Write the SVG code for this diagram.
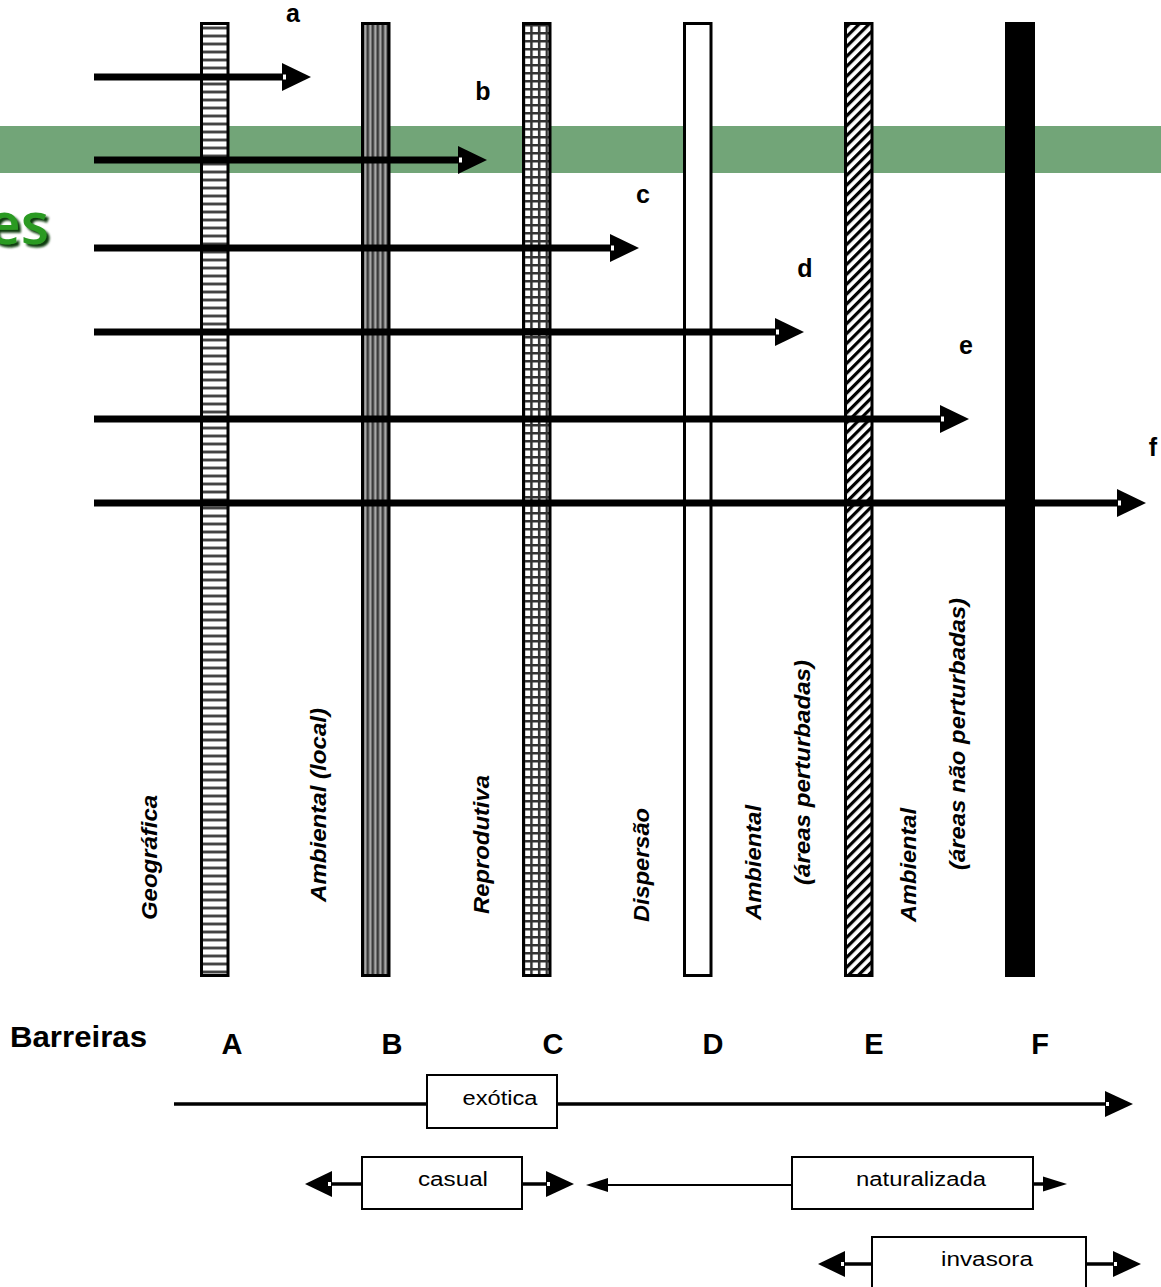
<svg xmlns="http://www.w3.org/2000/svg" xmlns:xlink="http://www.w3.org/1999/xlink" width="1161" height="1287" viewBox="0 0 1161 1287">
<style>
.bar{stroke:#000;stroke-width:3}
.line{stroke:#000;stroke-width:7;fill:none}
.bline{stroke:#000;stroke-width:3.5;fill:none}
.tline{stroke:#000;stroke-width:2;fill:none}
.box{fill:#fff;stroke:#000;stroke-width:2}
.lbl{font-family:"Liberation Sans",Arial,sans-serif;font-weight:bold;font-size:25px;fill:#000}
.big{font-family:"Liberation Sans",Arial,sans-serif;font-weight:bold;font-size:29px;fill:#000}
.rot{font-family:"Liberation Sans",Arial,sans-serif;font-weight:bold;font-style:italic;font-size:22px;fill:#000}
.bx{font-family:"Liberation Sans",Arial,sans-serif;font-size:20px;fill:#000;text-anchor:middle}
</style>
<defs>
<filter id="sh" x="-20%" y="-20%" width="140%" height="140%">
<feDropShadow dx="3" dy="3" stdDeviation="0.8" flood-color="#0b3d0b" flood-opacity="1"/>
</filter>
<pattern id="pA" x="0" y="0" width="8" height="8" patternUnits="userSpaceOnUse">
<rect width="8" height="8" fill="#fff"/>
<rect y="2" width="8" height="1" fill="#aaa"/>
<rect y="3" width="8" height="2" fill="#444"/>
<rect y="5" width="8" height="1" fill="#aaa"/>
</pattern>
<pattern id="pB" x="361.5" y="0" width="5" height="8" patternUnits="userSpaceOnUse">
<rect width="5" height="8" fill="#a8a8a8"/>
<rect x="0" width="2.6" height="8" fill="#3a3a3a"/>
</pattern>
<pattern id="pC" x="522.5" y="0" width="7.7" height="8" patternUnits="userSpaceOnUse">
<rect width="7.7" height="8" fill="#fff"/>
<rect x="0" width="2.5" height="8" fill="#333"/>
<rect y="0" width="7.7" height="2.5" fill="#333"/>
</pattern>
<pattern id="pE" x="0" y="0" width="7" height="7" patternUnits="userSpaceOnUse" patternTransform="rotate(45)">
<rect width="7" height="7" fill="#fff"/>
<rect x="0" width="3.2" height="7" fill="#000"/>
</pattern>
<g id="ahR"><path d="M0,-14 L29,0 L0,14 Z" fill="#000"/><rect x="1" y="-2.5" width="3" height="5" fill="#fff"/></g>
<g id="ahL"><path d="M0,-13 L-27,0 L0,13 Z" fill="#000"/><rect x="-4" y="-2" width="3" height="4" fill="#fff"/></g>
<g id="ahRb"><path d="M0,-13 L28,0 L0,13 Z" fill="#000"/><rect x="1" y="-2" width="3" height="4" fill="#fff"/></g>
</defs>
<rect width="1161" height="1287" fill="#fff"/>
<rect id="band" x="0" y="126" width="1161" height="47" fill="#72a578"/>
<g id="title-fragment">
<text x="49" y="244" text-anchor="end" font-family="'Open Sans','DejaVu Sans',sans-serif" font-weight="600" font-size="58" fill="#2a9a22" filter="url(#sh)">es</text>
</g>
<g id="barrier-A"><rect class="bar" x="201.5" y="23.5" width="26.5" height="952" fill="url(#pA)"/></g>
<g id="barrier-B"><rect class="bar" x="362.5" y="23.5" width="26.5" height="952" fill="url(#pB)"/></g>
<g id="barrier-C"><rect class="bar" x="523.5" y="23.5" width="26.5" height="952" fill="url(#pC)"/></g>
<g id="barrier-D"><rect class="bar" x="684.5" y="23.5" width="26.5" height="952" fill="#fff"/></g>
<g id="barrier-E"><rect class="bar" x="845.5" y="23.5" width="26.5" height="952" fill="url(#pE)"/></g>
<g id="barrier-F"><rect x="1005" y="22" width="30" height="955" fill="#000"/></g>
<g id="barrier-labels">
<text class="rot" transform="translate(157,920) rotate(-90)" textLength="125" lengthAdjust="spacingAndGlyphs">Geográfica</text>
<text class="rot" transform="translate(326,902) rotate(-90)" textLength="194" lengthAdjust="spacingAndGlyphs">Ambiental (local)</text>
<text class="rot" transform="translate(489,914) rotate(-90)" textLength="139" lengthAdjust="spacingAndGlyphs">Reprodutiva</text>
<text class="rot" transform="translate(649,922) rotate(-90)" textLength="114" lengthAdjust="spacingAndGlyphs">Dispersão</text>
<text class="rot" transform="translate(761,920) rotate(-90)" textLength="115" lengthAdjust="spacingAndGlyphs">Ambiental</text>
<text class="rot" transform="translate(810,885) rotate(-90)" textLength="225" lengthAdjust="spacingAndGlyphs">(áreas perturbadas)</text>
<text class="rot" transform="translate(916,922) rotate(-90)" textLength="114" lengthAdjust="spacingAndGlyphs">Ambiental</text>
<text class="rot" transform="translate(965,870) rotate(-90)" textLength="272" lengthAdjust="spacingAndGlyphs">(áreas não perturbadas)</text>
</g>
<g id="connectors">
<line class="line" x1="94" y1="77" x2="284" y2="77"/><use xlink:href="#ahR" transform="translate(282,77)"/>
<line class="line" x1="94" y1="160" x2="460" y2="160"/><use xlink:href="#ahR" transform="translate(458,160)"/>
<line class="line" x1="94" y1="248" x2="612" y2="248"/><use xlink:href="#ahR" transform="translate(610,248)"/>
<line class="line" x1="94" y1="332" x2="777" y2="332"/><use xlink:href="#ahR" transform="translate(775,332)"/>
<line class="line" x1="94" y1="419" x2="942" y2="419"/><use xlink:href="#ahR" transform="translate(940,419)"/>
<line class="line" x1="94" y1="503" x2="1119" y2="503"/><use xlink:href="#ahR" transform="translate(1117,503)"/>
<line class="bline" x1="174" y1="1104" x2="1107" y2="1104"/><use xlink:href="#ahRb" transform="translate(1105,1104)"/>
<line class="bline" x1="330" y1="1184" x2="362" y2="1184"/><use xlink:href="#ahL" transform="translate(332,1184)"/>
<line class="bline" x1="522" y1="1184" x2="549" y2="1184"/><use xlink:href="#ahRb" transform="translate(546,1184)"/>
<line class="tline" x1="605" y1="1185" x2="792" y2="1185"/><path d="M608,1178 L586,1185 L608,1192 Z" fill="#000"/>
<line class="bline" x1="1033" y1="1184" x2="1045" y2="1184"/><path d="M1043,1176.5 L1067,1184 L1043,1191.5 Z" fill="#000"/>
<line class="bline" x1="842" y1="1264" x2="872" y2="1264"/><use xlink:href="#ahL" transform="translate(845,1264)"/>
<line class="bline" x1="1086" y1="1264" x2="1115" y2="1264"/><use xlink:href="#ahRb" transform="translate(1113,1264)"/>
</g>
<g id="arrow-labels">
<text class="lbl" x="293" y="22" text-anchor="middle">a</text>
<text class="lbl" x="483" y="100" text-anchor="middle">b</text>
<text class="lbl" x="643" y="203" text-anchor="middle">c</text>
<text class="lbl" x="805" y="277" text-anchor="middle">d</text>
<text class="lbl" x="966" y="354" text-anchor="middle">e</text>
<text class="lbl" x="1153" y="456" text-anchor="middle">f</text>
</g>
<g id="axis-labels">
<text class="big" x="10" y="1047" textLength="137" lengthAdjust="spacingAndGlyphs">Barreiras</text>
<text class="big" x="232" y="1054" text-anchor="middle">A</text>
<text class="big" x="392" y="1054" text-anchor="middle">B</text>
<text class="big" x="553" y="1054" text-anchor="middle">C</text>
<text class="big" x="713" y="1054" text-anchor="middle">D</text>
<text class="big" x="874" y="1054" text-anchor="middle">E</text>
<text class="big" x="1040" y="1054" text-anchor="middle">F</text>
</g>
<g id="node-exotica"><rect class="box" x="427" y="1075" width="130" height="53"/><text class="bx" x="500" y="1105" textLength="75" lengthAdjust="spacingAndGlyphs">exótica</text></g>
<g id="node-casual"><rect class="box" x="362" y="1157" width="160" height="52"/><text class="bx" x="453" y="1186" textLength="70" lengthAdjust="spacingAndGlyphs">casual</text></g>
<g id="node-naturalizada"><rect class="box" x="792" y="1157" width="241" height="52"/><text class="bx" x="921" y="1186" textLength="130" lengthAdjust="spacingAndGlyphs">naturalizada</text></g>
<g id="node-invasora"><rect class="box" x="872" y="1237" width="214" height="60"/><text class="bx" x="987" y="1266" textLength="92" lengthAdjust="spacingAndGlyphs">invasora</text></g>
</svg>
